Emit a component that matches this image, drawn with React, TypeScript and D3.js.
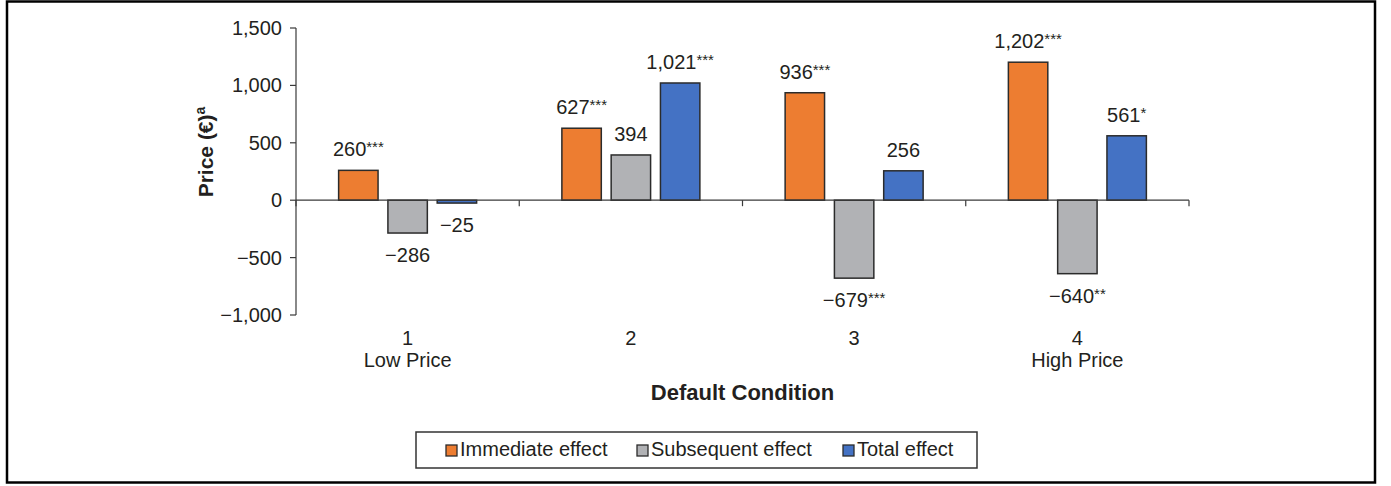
import React from "react";
import * as d3 from "d3";

const width = 1391;
const height = 486;
const font = "'Liberation Sans', Arial, Helvetica, sans-serif";
const ink = "#231f20";

// chart data
const categories = ["1", "2", "3", "4"];
const subLabels = ["Low Price", "", "", "High Price"];
const seriesNames = ["Immediate effect", "Subsequent effect", "Total effect"];
const seriesColors = ["#ED7D31", "#B1B2B5", "#4472C4"];
const immediate = [260, 627, 936, 1202];
const subsequent = [-286, 394, -679, -640];
const total = [-25, 1021, 256, 561];
const immediateStars = ["***", "***", "***", "***"];
const subsequentStars = ["", "", "***", "**"];
const totalStars = ["", "***", "", "*"];
const yTicks = [-1000, -500, 0, 500, 1000, 1500];

const plot = { left: 296, right: 1189, top: 28, bottom: 315 };
const groupWidth = 138;

const fmt = d3.format(",");

const App = () => {
  const values = [immediate, subsequent, total];
  const stars = [immediateStars, subsequentStars, totalStars];

  const x0 = d3.scaleBand().domain(categories).range([plot.left, plot.right]).padding(0);
  const bw = x0.bandwidth();
  const x1 = d3
    .scaleBand()
    .domain(seriesNames)
    .range([(bw - groupWidth) / 2, (bw + groupWidth) / 2])
    .paddingInner(0.2);
  const y = d3.scaleLinear().domain([-1000, 1500]).range([plot.bottom, plot.top]);

  const bars = [];
  categories.forEach((c, i) => {
    seriesNames.forEach((s, j) => {
      const v = values[j][i];
      const bx = x0(c) + x1(s);
      const y1 = y(Math.max(0, v));
      const y2 = y(Math.min(0, v));
      bars.push({ key: c + s, x: bx, y: y1, h: y2 - y1, w: x1.bandwidth(), v, fill: seriesColors[j], star: stars[j][i] });
    });
  });

  const boundaries = categories.map((c) => x0(c)).concat([plot.right]);
  const legendMarkers = [446, 637, 843];

  return (
    <svg width={width} height={height} style={{ position: "absolute", left: 0, top: 0, background: "#fff" }} fontFamily={font}>
      <rect x={7} y={1.5} width={1368} height={481} fill="#fff" stroke="#000" strokeWidth={2.5} />

      {/* y axis */}
      <line x1={plot.left} x2={plot.left} y1={plot.top} y2={plot.bottom} stroke="#3a3a3a" strokeWidth={1.2} />
      {yTicks.map((t) => (
        <g key={t}>
          <line x1={plot.left - 6} x2={plot.left} y1={y(t)} y2={y(t)} stroke="#3a3a3a" strokeWidth={1.2} />
          <text x={plot.left - 14} y={y(t)} dy="0.35em" textAnchor="end" fontSize={20} fill={ink}>
            {fmt(t)}
          </text>
        </g>
      ))}
      <text transform={`translate(213,152) rotate(-90)`} textAnchor="middle" fontSize={21} fontWeight="bold" fill={ink}>
        Price (€)
        <tspan fontSize={14} dy={-8}>a</tspan>
      </text>

      {/* bars */}
      {bars.map((b) => (
        <rect key={b.key} x={b.x} y={b.y} width={b.w} height={b.h} fill={b.fill} stroke="#2b2b2b" strokeWidth={1.5} />
      ))}

      {/* x axis at zero */}
      <line x1={plot.left} x2={plot.right} y1={y(0)} y2={y(0)} stroke="#3a3a3a" strokeWidth={1.2} />
      {boundaries.map((bx, i) => (
        <line key={i} x1={bx} x2={bx} y1={y(0)} y2={y(0) + 6} stroke="#3a3a3a" strokeWidth={1.2} />
      ))}

      {/* data labels */}
      {bars.map((b) => (
        <text
          key={"l" + b.key}
          x={b.x + b.w / 2}
          y={b.v >= 0 ? b.y - 14 : b.y + b.h + 29}
          textAnchor="middle"
          fontSize={20}
          fill={ink}
        >
          {fmt(b.v)}
          {b.star && (
            <tspan fontSize={15} dy={-4}>
              {b.star}
            </tspan>
          )}
        </text>
      ))}

      {/* category labels */}
      {categories.map((c, i) => (
        <g key={"c" + c}>
          <text x={x0(c) + bw / 2} y={345} textAnchor="middle" fontSize={20} fill={ink}>
            {c}
          </text>
          {subLabels[i] && (
            <text x={x0(c) + bw / 2} y={367} textAnchor="middle" fontSize={20} fill={ink}>
              {subLabels[i]}
            </text>
          )}
        </g>
      ))}
      <text x={(plot.left + plot.right) / 2} y={400} textAnchor="middle" fontSize={22} fontWeight="bold" fill={ink}>
        Default Condition
      </text>

      {/* legend */}
      <rect x={416} y={432} width={561} height={36} fill="#fff" stroke="#333" strokeWidth={1.5} />
      {seriesNames.map((s, j) => (
        <g key={"lg" + s}>
          <rect x={legendMarkers[j]} y={445} width={11} height={11} fill={seriesColors[j]} stroke="#2b2b2b" strokeWidth={1.3} />
          <text x={legendMarkers[j] + 14} y={456} fontSize={20} fill={ink}>
            {s}
          </text>
        </g>
      ))}
    </svg>
  );
};

export default App;
